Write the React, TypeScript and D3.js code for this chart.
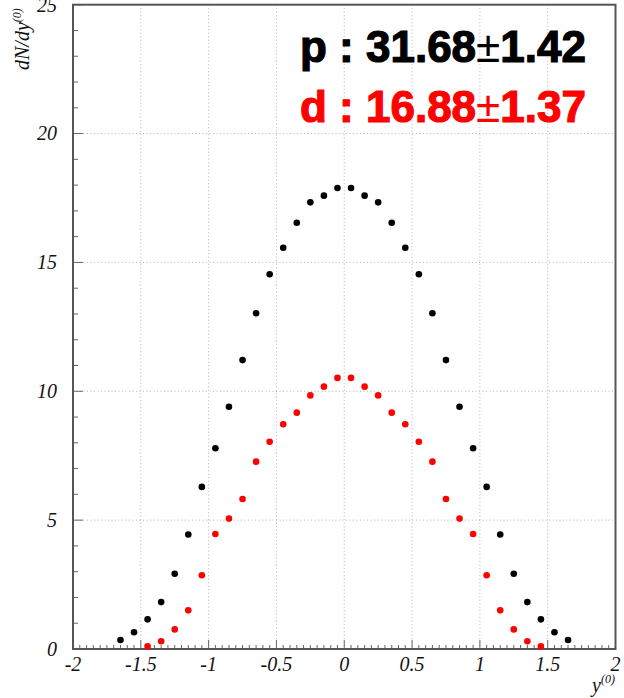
import React, { useEffect, useRef } from "react";
import * as d3 from "d3";

// bin centres (width 0.1)
const xProton = [
  -1.65, -1.55, -1.45, -1.35, -1.25, -1.15, -1.05, -0.95, -0.85, -0.75, -0.65, -0.55,
  -0.45, -0.35, -0.25, -0.15, -0.05, 0.05, 0.15, 0.25, 0.35, 0.45, 0.55, 0.65, 0.75,
  0.85, 0.95, 1.05, 1.15, 1.25, 1.35, 1.45, 1.55, 1.65,
];
const yProton = [
  0.35, 0.65, 1.15, 1.82, 2.92, 4.44, 6.29, 7.79, 9.4, 11.21, 13.03, 14.54, 15.57,
  16.54, 17.33, 17.59, 17.89, 17.89, 17.59, 17.33, 16.54, 15.57, 14.54, 13.03, 11.21,
  9.4, 7.79, 6.29, 4.44, 2.92, 1.82, 1.15, 0.65, 0.35,
];
const xDeuteron = [
  -1.45, -1.35, -1.25, -1.15, -1.05, -0.95, -0.85, -0.75, -0.65, -0.55, -0.45, -0.35,
  -0.25, -0.15, -0.05, 0.05, 0.15, 0.25, 0.35, 0.45, 0.55, 0.65, 0.75, 0.85, 0.95,
  1.05, 1.15, 1.25, 1.35, 1.45,
];
const yDeuteron = [
  0.1, 0.3, 0.76, 1.5, 2.86, 4.46, 5.06, 5.82, 7.27, 8.04, 8.72, 9.17, 9.84, 10.18,
  10.52, 10.52, 10.18, 9.84, 9.17, 8.72, 8.04, 7.27, 5.82, 5.06, 4.46, 2.86, 1.5, 0.76,
  0.3, 0.1,
];
const xTicks = [-2, -1.5, -1, -0.5, 0, 0.5, 1, 1.5, 2];
const yTicks = [0, 5, 10, 15, 20, 25];

const W = 624;
const H = 698;
const L = 73, R = 615.5, T = 4.7, B = 649;

export default function App() {
  const ref = useRef<SVGSVGElement>(null);

  useEffect(() => {
    const svg = d3.select(ref.current);
    svg.selectAll("*").remove();

    const x = d3.scaleLinear().domain([-2, 2]).range([L, R]);
    const y = d3.scaleLinear().domain([0, 25]).range([B, T]);

    // grid
    const grid = svg.append("g").attr("stroke", "#b5b5b5").attr("stroke-dasharray", "1,2.5");
    grid.selectAll(".gx").data(xTicks.slice(1, -1)).join("line")
      .attr("x1", d => x(d)).attr("x2", d => x(d)).attr("y1", T).attr("y2", B);
    grid.selectAll(".gy").data(yTicks.slice(1, -1)).join("line")
      .attr("x1", L).attr("x2", R).attr("y1", d => y(d)).attr("y2", d => y(d));

    // minor/major ticks
    const tk = svg.append("g").attr("stroke", "#666").attr("stroke-width", 1);
    const xMinor = d3.range(-2, 2.0001, 0.05);
    tk.selectAll(".tx").data(xMinor).join("line")
      .attr("x1", d => x(d)).attr("x2", d => x(d))
      .attr("y1", B).attr("y2", d => B - (Math.abs(d * 2 - Math.round(d * 2)) < 1e-6 ? 9 : 4));
    const yMinor = d3.range(0, 25.001, 1);
    tk.selectAll(".ty").data(yMinor).join("line")
      .attr("y1", d => y(d)).attr("y2", d => y(d))
      .attr("x1", L).attr("x2", d => L + (d % 5 === 0 ? 10 : 5));

    // frame
    svg.append("rect")
      .attr("x", L).attr("y", T).attr("width", R - L).attr("height", B - T)
      .attr("fill", "none").attr("stroke", "#555").attr("stroke-width", 2);

    const font = "'Liberation Serif', 'Times New Roman', serif";
    svg.append("g").selectAll("text").data(yTicks).join("text")
      .attr("x", 57).attr("y", d => y(d)).attr("dy", "0.34em")
      .attr("text-anchor", "end").attr("font-family", font).attr("font-style", "italic")
      .attr("font-size", 20).attr("fill", "#111").text(d => String(d));
    svg.append("g").selectAll("text").data(xTicks).join("text")
      .attr("x", d => x(d)).attr("y", 671)
      .attr("text-anchor", "middle").attr("font-family", font).attr("font-style", "italic")
      .attr("font-size", 20).attr("fill", "#111").text(d => String(d).replace("−", "-"));

    // axis titles
    const yt = svg.append("text")
      .attr("transform", "translate(29,70) rotate(-90)")
      .attr("font-family", font).attr("font-style", "italic").attr("font-size", 20).attr("fill", "#111");
    yt.append("tspan").text("dN/dy");
    yt.append("tspan").attr("dy", -8).attr("font-size", 12).text("(0)");

    const xt = svg.append("text")
      .attr("x", 615).attr("y", 692).attr("text-anchor", "end")
      .attr("font-family", font).attr("font-style", "italic").attr("font-size", 20).attr("fill", "#111");
    xt.append("tspan").text("y");
    xt.append("tspan").attr("dy", -9).attr("font-size", 12).text("(0)");

    // points
    svg.append("g").selectAll("circle").data(xProton).join("circle")
      .attr("cx", d => x(d)).attr("cy", (_, i) => y(yProton[i])).attr("r", 3.3).attr("fill", "#000");
    svg.append("g").selectAll("circle").data(xDeuteron).join("circle")
      .attr("cx", d => x(d)).attr("cy", (_, i) => y(yDeuteron[i])).attr("r", 3.3).attr("fill", "#f00");

    // legend
    const lf = "'Liberation Sans', Arial, sans-serif";
    const legend = [
      { name: "p : 31.68", err: "1.42", color: "#000", yy: 62 },
      { name: "d : 16.88", err: "1.37", color: "#f00", yy: 122 },
    ];
    legend.forEach(l => {
      const t = svg.append("text").attr("x", 300).attr("y", l.yy)
        .attr("font-family", lf).attr("font-weight", "bold").attr("font-size", 44)
        .attr("fill", l.color).attr("stroke", l.color).attr("stroke-width", 1.2);
      t.append("tspan").text(l.name);
      t.append("tspan").attr("font-weight", "normal").attr("stroke-width", 0).text("±");
      t.append("tspan").text(l.err);
    });
  }, []);

  return (
    <svg ref={ref} width={W} height={H}
      style={{ position: "absolute", left: 0, top: 0, background: "#fff" }} />
  );
}
